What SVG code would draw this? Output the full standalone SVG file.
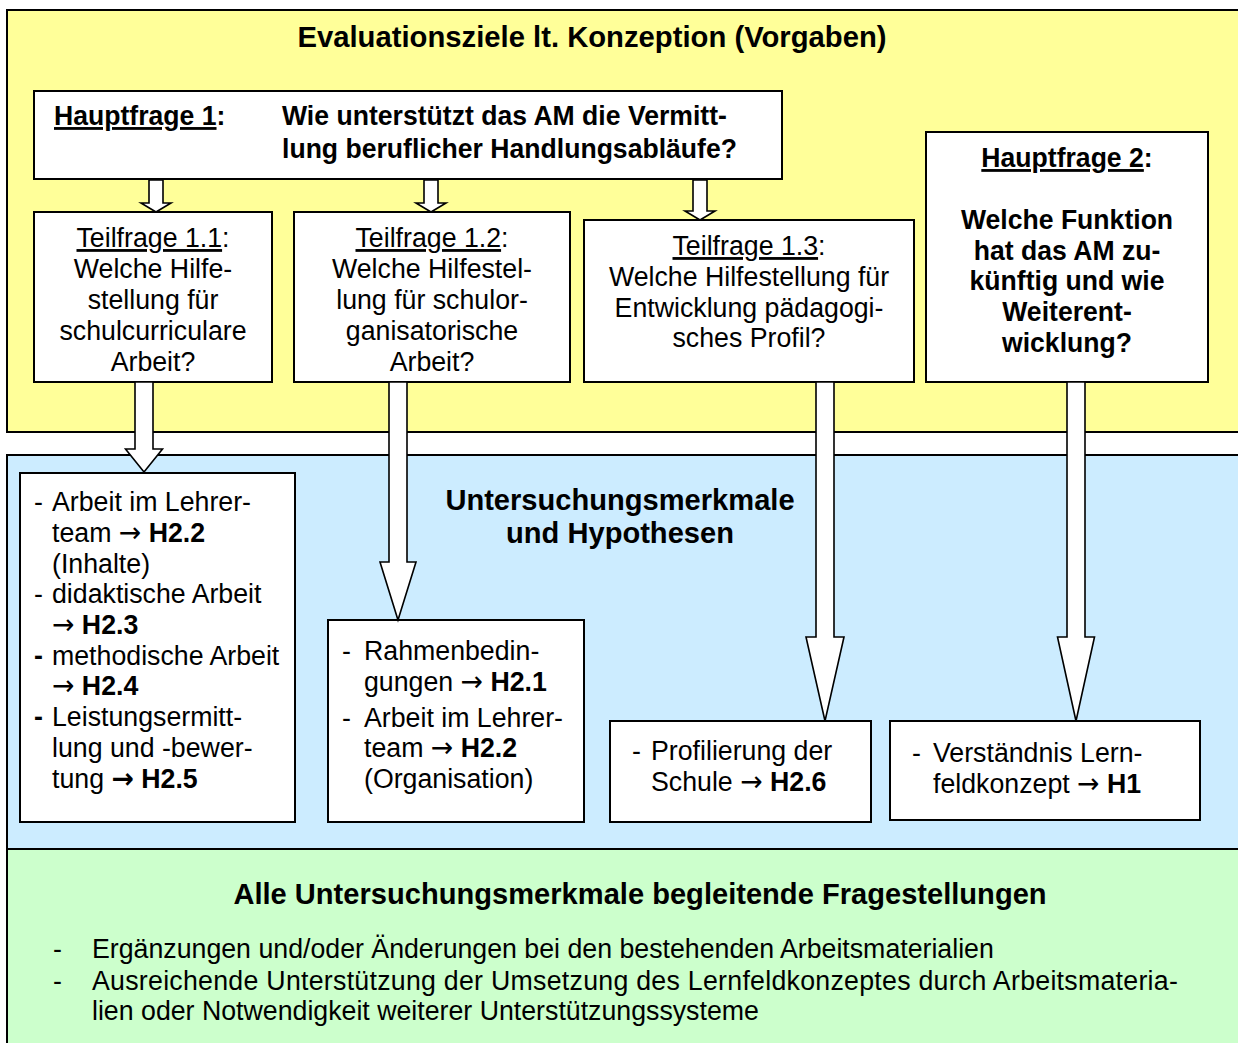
<svg xmlns="http://www.w3.org/2000/svg" width="1238" height="1043" viewBox="0 0 1238 1043">
<style>
.pnl{stroke:#000;stroke-width:2}
.box{fill:#fff;stroke:#000;stroke-width:2}
.arr{fill:#fff;stroke:#000;stroke-width:1.6;stroke-linejoin:miter}
text{font-family:"Liberation Sans",Arial,Helvetica,sans-serif;fill:#000}
.t{font-size:28px}
.bt{font-size:28px;font-weight:bold}
.h{font-size:30px;font-weight:bold}
.m{text-anchor:middle}
.u{text-decoration:underline}
.b{font-weight:bold}
.ar{font-family:"DejaVu Sans",sans-serif;font-size:28px}
</style>
<rect width="1238" height="1043" fill="#fff"/>
<g id="panel-evaluationsziele">
<rect class="pnl" x="7" y="10" width="1240" height="422" fill="#FFFF99"/>
<text class="h m" transform="translate(592,47) scale(.975,1)">Evaluationsziele lt. Konzeption (Vorgaben)</text>
</g>
<g id="panel-untersuchungsmerkmale">
<rect class="pnl" x="7" y="455" width="1240" height="394" fill="#CCECFF"/>
<text class="h m" transform="translate(620,510) scale(.97,1)">Untersuchungsmerkmale</text>
<text class="h m" transform="translate(620,543) scale(.97,1)">und Hypothesen</text>
</g>
<g id="panel-begleitende-fragestellungen">
<rect class="pnl" x="7" y="849" width="1240" height="210" fill="#CCFFCC"/>
<text class="h m" transform="translate(640,904) scale(.97,1)">Alle Untersuchungsmerkmale begleitende Fragestellungen</text>
<text class="t" transform="translate(53,958) scale(.955,1)">-</text>
<text class="t" transform="translate(92,958) scale(.955,1)">Ergänzungen und/oder Änderungen bei den bestehenden Arbeitsmaterialien</text>
<text class="t" transform="translate(53,990) scale(.955,1)">-</text>
<text class="t" transform="translate(92,990) scale(.955,1)" textLength="1137" lengthAdjust="spacing">Ausreichende Unterstützung der Umsetzung des Lernfeldkonzeptes durch Arbeitsmateria-</text>
<text class="t" transform="translate(92,1020) scale(.955,1)">lien oder Notwendigkeit weiterer Unterstützungssysteme</text>
</g>
<g id="hauptfrage1">
<rect class="box" x="34" y="91" width="748" height="88"/>
<text class="bt" transform="translate(54,125) scale(.95,1)"><tspan class="u">Hauptfrage 1</tspan>:</text>
<text class="bt" transform="translate(282,125) scale(.95,1)">Wie unterstützt das AM die Vermitt-</text>
<text class="bt" transform="translate(282,158) scale(.95,1)">lung beruflicher Handlungsabläufe?</text>
</g>
<g id="teilfrage11">
<rect class="box" x="34" y="212" width="238" height="170"/>
<text class="t m" transform="translate(153,247) scale(.955,1)"><tspan class="u">Teilfrage 1.1</tspan>:</text>
<text class="t m" transform="translate(153,278) scale(.955,1)">Welche Hilfe-</text>
<text class="t m" transform="translate(153,309) scale(.955,1)">stellung für</text>
<text class="t m" transform="translate(153,340) scale(.955,1)">schulcurriculare</text>
<text class="t m" transform="translate(153,371) scale(.955,1)">Arbeit?</text>
</g>
<g id="teilfrage12">
<rect class="box" x="294" y="212" width="276" height="170"/>
<text class="t m" transform="translate(432,247) scale(.955,1)"><tspan class="u">Teilfrage 1.2</tspan>:</text>
<text class="t m" transform="translate(432,278) scale(.955,1)">Welche Hilfestel-</text>
<text class="t m" transform="translate(432,309) scale(.955,1)">lung für schulor-</text>
<text class="t m" transform="translate(432,340) scale(.955,1)">ganisatorische</text>
<text class="t m" transform="translate(432,371) scale(.955,1)">Arbeit?</text>
</g>
<g id="teilfrage13">
<rect class="box" x="584" y="220" width="330" height="162"/>
<text class="t m" transform="translate(749,255) scale(.955,1)"><tspan class="u">Teilfrage 1.3</tspan>:</text>
<text class="t m" transform="translate(749,286) scale(.955,1)">Welche Hilfestellung für</text>
<text class="t m" transform="translate(749,317) scale(.955,1)">Entwicklung pädagogi-</text>
<text class="t m" transform="translate(749,347) scale(.955,1)">sches Profil?</text>
</g>
<g id="hauptfrage2">
<rect class="box" x="926" y="132" width="282" height="250"/>
<text class="bt m" transform="translate(1067,167) scale(.95,1)"><tspan class="u">Hauptfrage 2</tspan>:</text>
<text class="bt m" transform="translate(1067,229) scale(.95,1)">Welche Funktion</text>
<text class="bt m" transform="translate(1067,260) scale(.95,1)">hat das AM zu-</text>
<text class="bt m" transform="translate(1067,290) scale(.95,1)">künftig und wie</text>
<text class="bt m" transform="translate(1067,321) scale(.95,1)">Weiterent-</text>
<text class="bt m" transform="translate(1067,352) scale(.95,1)">wicklung?</text>
</g>
<g id="merkmale-a">
<rect class="box" x="20" y="473" width="275" height="349"/>
<text class="t" transform="translate(34,511) scale(.955,1)">-</text>
<text class="t" transform="translate(52,511) scale(.955,1)">Arbeit im Lehrer-</text>
<text class="t" transform="translate(52,542) scale(.955,1)">team <tspan class="ar">→</tspan> <tspan class="b">H2.2</tspan></text>
<text class="t" transform="translate(52,573) scale(.955,1)">(Inhalte)</text>
<text class="t" transform="translate(34,603) scale(.955,1)">-</text>
<text class="t" transform="translate(52,603) scale(.955,1)">didaktische Arbeit</text>
<text class="t" transform="translate(52,634) scale(.955,1)"><tspan class="ar">→</tspan> <tspan class="b">H2.3</tspan></text>
<text class="t b" transform="translate(34,665) scale(.955,1)">-</text>
<text class="t" transform="translate(52,665) scale(.955,1)">methodische Arbeit</text>
<text class="t" transform="translate(52,695) scale(.955,1)"><tspan class="ar">→</tspan> <tspan class="b">H2.4</tspan></text>
<text class="t b" transform="translate(34,726) scale(.955,1)">-</text>
<text class="t" transform="translate(52,726) scale(.955,1)">Leistungsermitt-</text>
<text class="t" transform="translate(52,757) scale(.955,1)">lung und -bewer-</text>
<text class="t" transform="translate(52,788) scale(.955,1)">tung <tspan class="ar b">→</tspan><tspan class="b"> H2.5</tspan></text>
</g>
<g id="merkmale-b">
<rect class="box" x="328" y="620" width="256" height="202"/>
<text class="t" transform="translate(342,660) scale(.955,1)">-</text>
<text class="t" transform="translate(364,660) scale(.955,1)">Rahmenbedin-</text>
<text class="t" transform="translate(364,691) scale(.955,1)">gungen <tspan class="ar">→</tspan> <tspan class="b">H2.1</tspan></text>
<text class="t" transform="translate(342,727) scale(.955,1)">-</text>
<text class="t" transform="translate(364,727) scale(.955,1)">Arbeit im Lehrer-</text>
<text class="t" transform="translate(364,757) scale(.955,1)">team <tspan class="ar">→</tspan> <tspan class="b">H2.2</tspan></text>
<text class="t" transform="translate(364,788) scale(.955,1)">(Organisation)</text>
</g>
<g id="merkmale-c">
<rect class="box" x="610" y="721" width="261" height="101"/>
<text class="t" transform="translate(632,760) scale(.955,1)">-</text>
<text class="t" transform="translate(651,760) scale(.955,1)">Profilierung der</text>
<text class="t" transform="translate(651,791) scale(.955,1)">Schule <tspan class="ar">→</tspan> <tspan class="b">H2.6</tspan></text>
</g>
<g id="merkmale-d">
<rect class="box" x="890" y="721" width="310" height="99"/>
<text class="t" transform="translate(912,762) scale(.955,1)">-</text>
<text class="t" transform="translate(933,762) scale(.955,1)">Verständnis Lern-</text>
<text class="t" transform="translate(933,793) scale(.955,1)">feldkonzept <tspan class="ar">→</tspan> <tspan class="b">H1</tspan></text>
</g>
<g id="connectors">
<polygon class="arr" points="149,180 163,180 163,203 171,203 156,212 141,203 149,203"/>
<polygon class="arr" points="424,180 438,180 438,203 446,203 431,212 416,203 424,203"/>
<polygon class="arr" points="693,180 707,180 707,211 715,211 700,220 685,211 693,211"/>
<polygon class="arr" points="135,382 153,382 153,449 162.5,449 144,472 125.5,449 135,449"/>
<polygon class="arr" points="389,382 407,382 407,562 416,562 398,620 380,562 389,562"/>
<polygon class="arr" points="816,382 834,382 834,637 844,637 825,721 806,637 816,637"/>
<polygon class="arr" points="1067,382 1085,382 1085,637 1094.5,637 1076,721 1057.5,637 1067,637"/>
</g>
</svg>
